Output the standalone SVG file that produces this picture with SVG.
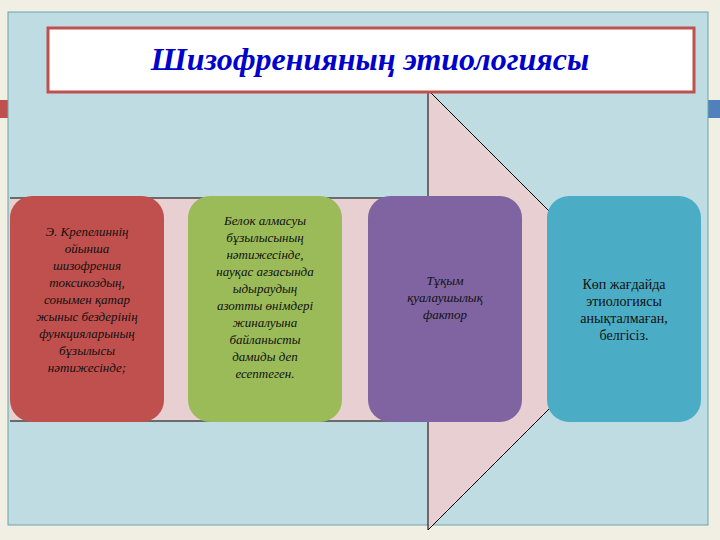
<svg xmlns="http://www.w3.org/2000/svg" width="720" height="540" viewBox="0 0 720 540">
<style>
.box{stroke:none}
.t{font-family:"Liberation Serif",serif;font-style:italic;font-size:13px;fill:#111;text-anchor:middle}
.u{font-family:"Liberation Serif",serif;font-size:14px;fill:#111;text-anchor:middle}
</style>
<rect width="720" height="540" fill="#f1eee4"/>
<rect x="0" y="100" width="10" height="18" fill="#c0504d"/>
<rect x="708" y="100" width="12" height="18" fill="#4f81bd"/>
<rect x="8" y="12" width="700" height="513" fill="#c0dce3" stroke="#6aa6a8" stroke-width="1"/>
<g id="connectors">
<polygon points="10,198 428,198 428,90 648,310 428,530 428,421 10,421" fill="#e8d0d2"/>
<path d="M10,198 H428 V90 L648,310 L428,530 V421 H10" fill="none" stroke="#000" stroke-width="1"/>
</g>
<g id="title">
<rect x="48" y="28" width="646" height="64" fill="#fff" stroke="#c0504d" stroke-width="3"/>
<text x="370" y="70" font-family="Liberation Serif,serif" font-style="italic" font-weight="bold" font-size="32" fill="#0000cc" text-anchor="middle">Шизофренияның этиологиясы</text>
</g>
<g id="n1">
<rect class="box" x="10" y="196" width="154" height="226" rx="22" fill="#c0504d"/>
<text class="t" x="87" y="236">Э. Крепелиннің</text>
<text class="t" x="87" y="253">ойынша</text>
<text class="t" x="87" y="270">шизофрения</text>
<text class="t" x="87" y="287">токсикоздың,</text>
<text class="t" x="87" y="304">сонымен қатар</text>
<text class="t" x="87" y="321">жыныс бездерінің</text>
<text class="t" x="87" y="338">функцияларының</text>
<text class="t" x="87" y="355">бұзылысы</text>
<text class="t" x="87" y="372">нәтижесінде;</text>
</g>
<g id="n2">
<rect class="box" x="188" y="196" width="154" height="226" rx="22" fill="#9bbb59"/>
<text class="t" x="265" y="225">Белок алмасуы</text>
<text class="t" x="265" y="242">бұзылысының</text>
<text class="t" x="265" y="259">нәтижесінде,</text>
<text class="t" x="265" y="276">науқас ағзасында</text>
<text class="t" x="265" y="293">ыдыраудың</text>
<text class="t" x="265" y="310">азотты өнімдері</text>
<text class="t" x="265" y="327">жиналуына</text>
<text class="t" x="265" y="344">байланысты</text>
<text class="t" x="265" y="361">дамиды деп</text>
<text class="t" x="265" y="378">есептеген.</text>
</g>
<g id="n3">
<rect class="box" x="368" y="196" width="154" height="226" rx="22" fill="#8064a2"/>
<text class="t" x="445" y="285">Тұқым</text>
<text class="t" x="445" y="302">қуалаушылық</text>
<text class="t" x="445" y="319">фактор</text>
</g>
<g id="n4">
<rect class="box" x="547" y="196" width="154" height="226" rx="22" fill="#4bacc6"/>
<text class="u" x="624" y="289">Көп жағдайда</text>
<text class="u" x="624" y="306">этиологиясы</text>
<text class="u" x="624" y="323">анықталмаған,</text>
<text class="u" x="624" y="340">белгісіз.</text>
</g>
</svg>
